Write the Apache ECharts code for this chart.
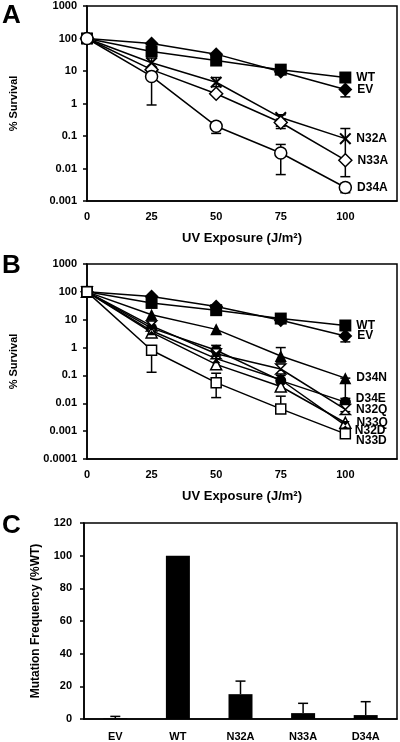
<!DOCTYPE html>
<html><head><meta charset="utf-8">
<script src="https://cdn.jsdelivr.net/npm/echarts@6/dist/echarts.min.js"></script>
<style>html,body{margin:0;padding:0;background:#fff}#c{width:400px;height:742px}</style>
</head><body><div id="c"></div>
<script>
// ---------- DATA ----------
const doses = [0, 25, 50, 75, 100];
const doseTickLabels = ['0', '25', '50', '75', '100'];
const logTickLabelsA = ['0.001', '0.01', '0.1', '1', '10', '100', '1000'];
const logTickLabelsB = ['0.0001', '0.001', '0.01', '0.1', '1', '10', '100', '1000'];

// Panel A (% survival)
const wtA   = [100, 40, 21, 11, 6.3];
const evA   = [100, 70, 33, 9.5, 2.7];
const n32aA = [100, 18, 4.5, 0.37, 0.083];
const n33aA = [100, 11, 2.0, 0.26, 0.018];
const d34aA = [100, 6.8, 0.2, 0.03, 0.0026];
// error bars [dose, low, high]
const errA = [[100, 4.8, 8], [100, 1.6, 2.7], [25, 12, 25], [50, 3.3, 6.3], [75, 0.2, 0.45], [100, 0.0056, 0.17],
              [75, 0.17, 0.33], [25, 0.9, 9], [50, 0.12, 0.27], [75, 0.0065, 0.055], [100, 0.0018, 0.0035]];

// Panel B (% survival)
const wtB   = [100, 40, 22, 11, 6.2];
const evB   = [100, 68, 30, 9.5, 2.6];
const d34nB = [100, 15, 4.5, 0.5, 0.08];
const d34eB = [100, 5, 0.8, 0.065, 0.011];
const n32qB = [100, 6, 0.6, 0.17, 0.006];
const n33qB = [100, 3.5, 0.25, 0.04, 0.002];
const n32dB = [100, 4, 0.4, 0.07, 0.0016];
const n33dB = [100, 0.8, 0.055, 0.0063, 0.0008];
const errB = [[100, 1.6, 2.6], [75, 0.3, 1.0], [100, 0.015, 0.08], [25, 0.13, 0.8], [50, 0.016, 0.12],
              [75, 0.006, 0.018], [50, 0.5, 1.2], [75, 0.1, 0.25], [100, 0.005, 0.012]];

// Panel C (mutation frequency %WT)
const strainsC = ['EV', 'WT', 'N32A', 'N33A', 'D34A'];
const freqC    = [0.4, 100, 15.2, 3.6, 2.4];
const freqErrC = [1.6, 100, 23.2, 9.6, 10.6];

// ---------- STYLE ----------
const FONT = 'Liberation Sans, Arial, sans-serif';
const X_SYM = 'path://M0,1.2L1.2,0L5,3.8L8.8,0L10,1.2L6.2,5L10,8.8L8.8,10L5,6.2L1.2,10L0,8.8L3.8,5Z';
const HOUR_SYM = 'path://M0,0L10,0L5,5L10,10L0,10L5,5Z';

const lblStyle = {fontFamily: FONT, fontWeight: 'bold', fontSize: 12, color: '#000'};

function fmtLog(v) {
  const e = Math.round(Math.log10(v));
  return e >= 0 ? String(Math.pow(10, e)) : '0.' + '0'.repeat(-e - 1) + '1';
}

function lineSeries(name, vals, sym, size, filled, xi, labelOffset) {
  return {
    type: 'line', name: name, xAxisIndex: xi, yAxisIndex: xi,
    data: vals.map((v, i) => {
      const d = {value: [doses[i], v]};
      if (i === vals.length - 1) {
        d.label = Object.assign({show: true, position: 'right', distance: 5, formatter: name,
          offset: labelOffset || [0, 0]}, lblStyle);
      }
      return d;
    }),
    symbol: sym, symbolSize: size, showAllSymbol: true,
    lineStyle: {color: '#000', width: 1.5},
    itemStyle: {color: filled ? '#000' : '#fff', borderColor: '#000', borderWidth: filled ? 0 : 1.5},
    z: 3
  };
}

function errSeries(data, xi, capW, onlyTop) {
  return {
    type: 'custom', xAxisIndex: xi, yAxisIndex: xi, data: data, z: 2,
    renderItem: function (params, api) {
      if (api.value(1) === api.value(2)) return {type: 'group', children: []};
      const lo = api.coord([api.value(0), api.value(1)]);
      const hi = api.coord([api.value(0), api.value(2)]);
      const st = {stroke: '#000', lineWidth: 1.5};
      const ch = [
        {type: 'line', shape: {x1: lo[0], y1: lo[1], x2: hi[0], y2: hi[1]}, style: st},
        {type: 'line', shape: {x1: hi[0] - capW / 2, y1: hi[1], x2: hi[0] + capW / 2, y2: hi[1]}, style: st}
      ];
      if (!onlyTop) ch.push({type: 'line', shape: {x1: lo[0] - capW / 2, y1: lo[1], x2: lo[0] + capW / 2, y2: lo[1]}, style: st});
      return {type: 'group', children: ch};
    }
  };
}

const axisLineBlack = {show: true, lineStyle: {color: '#000', width: 1.5}};
const tickLbl = {fontFamily: FONT, fontWeight: 'bold', fontSize: 11, color: '#000'};
const nameStyle = {fontFamily: FONT, fontWeight: 'bold', fontSize: 12, color: '#000'};

function doseAxis(gi) {
  return {
    type: 'value', gridIndex: gi, min: 0, max: 120, interval: 25,
    axisLine: axisLineBlack, axisTick: {show: false}, splitLine: {show: false},
    axisLabel: Object.assign({margin: 10, formatter: v => {
      const i = doses.indexOf(v); return i >= 0 ? doseTickLabels[i] : '';
    }}, tickLbl),
    name: 'UV Exposure (J/m\u00B2)', nameLocation: 'middle', nameGap: 31,
    nameTextStyle: Object.assign({}, nameStyle, {fontSize: 13})
  };
}
function logAxis(gi, min, labels) {
  return {
    type: 'log', logBase: 10, gridIndex: gi, min: min, max: 1000,
    axisLine: axisLineBlack, axisTick: {show: true, inside: false, length: 4, lineStyle: {color: '#000', width: 1.5}},
    splitLine: {show: false}, minorTick: {show: false},
    axisLabel: Object.assign({margin: 10, formatter: v => {
      const s = fmtLog(v); return labels.indexOf(s) >= 0 ? s : '';
    }}, tickLbl),
    name: '% Survival', nameLocation: 'middle', nameGap: 68, nameTextStyle: Object.assign({}, nameStyle, {fontSize: 11})
  };
}

const gridBase = {show: true, borderColor: '#000', borderWidth: 1.5, backgroundColor: 'transparent', left: 87, right: 3};

const option = {
  animation: false,
  backgroundColor: '#fff',
  title: [
    {text: 'A', left: 2, top: 3},
    {text: 'B', left: 2, top: 253},
    {text: 'C', left: 2, top: 513}
  ].map(t => Object.assign(t, {textStyle: {fontFamily: FONT, fontWeight: 'bold', fontSize: 26, color: '#000'}, padding: 0})),
  grid: [
    Object.assign({}, gridBase, {top: 6, height: 195}),
    Object.assign({}, gridBase, {top: 264, height: 195}),
    Object.assign({}, gridBase, {left: 84, top: 523, height: 200})
  ],
  xAxis: [
    doseAxis(0), doseAxis(1),
    {type: 'category', gridIndex: 2, data: strainsC, axisLine: axisLineBlack, axisTick: {show: false},
     axisLabel: Object.assign({margin: 12}, tickLbl)}
  ],
  yAxis: [
    logAxis(0, 0.001, logTickLabelsA),
    logAxis(1, 0.0001, logTickLabelsB),
    {type: 'value', gridIndex: 2, min: 0, max: 120, interval: 20, axisLine: axisLineBlack,
     axisTick: {show: true, length: 4, lineStyle: {color: '#000', width: 1.5}}, splitLine: {show: false},
     axisLabel: Object.assign({margin: 12}, tickLbl),
     name: 'Mutation Frequency (%WT)', nameLocation: 'middle', nameGap: 42, nameTextStyle: Object.assign({}, nameStyle, {fontSize: 12})}
  ],
  series: [
    errSeries(errA, 0, 10, false),
    lineSeries('WT', wtA, 'rect', 12, true, 0),
    lineSeries('EV', evA, 'diamond', 14, true, 0),
    lineSeries('N32A', n32aA, X_SYM, 12, true, 0),
    lineSeries('N33A', n33aA, 'diamond', 13, false, 0),
    lineSeries('D34A', d34aA, 'circle', 12, false, 0),

    errSeries(errB, 1, 10, false),
    lineSeries('WT', wtB, 'rect', 12, true, 1),
    lineSeries('EV', evB, 'diamond', 14, true, 1),
    lineSeries('D34N', d34nB, 'triangle', 12, true, 1),
    lineSeries('D34E', d34eB, 'circle', 11, true, 1, [0, -3]),
    lineSeries('N32Q', n32qB, HOUR_SYM, 10, false, 1),
    lineSeries('N33Q', n33qB, 'triangle', 11, false, 1),
    lineSeries('N32D', n32dB, HOUR_SYM, 9, true, 1, [0, 5]),
    lineSeries('N33D', n33dB, 'rect', 10, false, 1, [0, 7]),

    {type: 'bar', xAxisIndex: 2, yAxisIndex: 2, data: freqC, barWidth: 24,
     itemStyle: {color: '#000'}, z: 3},
    errSeries(freqC.map((v, i) => [i, v, freqErrC[i]]), 2, 10, true)
  ]
};

const chart = echarts.init(document.getElementById('c'), null, {renderer: 'canvas'});
chart.setOption(option);
</script>
</body></html>
